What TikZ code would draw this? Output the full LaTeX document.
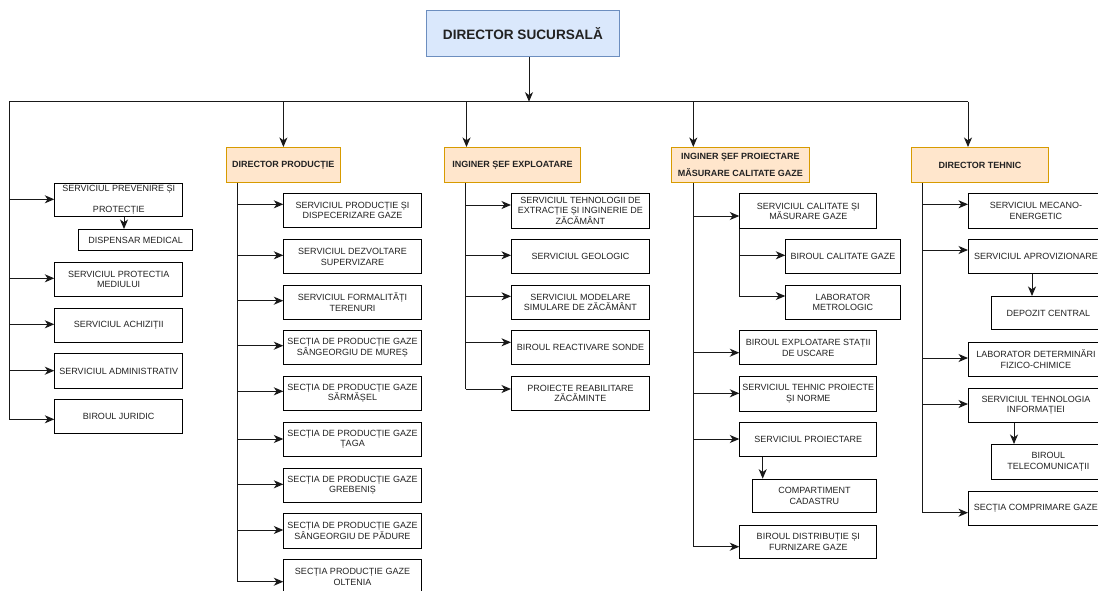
\documentclass[tikz,border=0pt]{standalone}
\usepackage{fontspec}
\setmainfont{Liberation Sans}
\usetikzlibrary{arrows.meta}
\definecolor{topfill}{HTML}{DAE8FC}
\definecolor{topdraw}{HTML}{6C8EBF}
\definecolor{lvfill}{HTML}{FFE6CC}
\definecolor{lvdraw}{HTML}{D79B00}
\definecolor{txt}{HTML}{222222}
\newcommand\mybr[3]{\draw[arr] (#1 |- 0,#3) -- (#2.west |- 0,#3);}
\begin{document}
\begin{tikzpicture}[x=1pt,y=-1pt,
  ln/.style={line width=1pt, draw=black!90},
  arr/.style={ln, -{Stealth[length=9.5pt,width=8pt,inset=2.8pt]}},
  topbox/.style={draw=topdraw, fill=topfill, line width=0.8pt, anchor=north west, inner sep=0pt,
    minimum width=193pt, minimum height=46pt, font=\fontsize{13.6}{16}\selectfont\bfseries, text=txt},
  lvbox/.style={draw=lvdraw, fill=lvfill, line width=0.9pt, anchor=north west, inner sep=0pt,
    minimum height=35pt, align=center, font=\fontsize{9}{17.6}\selectfont\bfseries, text=txt},
  child/.style={draw=black, line width=0.9pt, fill=white, anchor=north west, inner sep=0pt,
    minimum width=137.5pt, minimum height=34.3pt, align=center,
    font=\fontsize{9}{10.7}\selectfont, text=txt},
  sub/.style={child, minimum width=114.4pt},
  lft/.style={child, minimum width=128pt}
]
\useasboundingbox (0,0) rectangle (1098,590);

% top
\node[topbox] (ds) at (426,10) {DIRECTOR SUCURSALĂ};

% level 2
\node[lvbox, minimum width=114.7pt] (dp) at (225.5,147) {DIRECTOR PRODUCȚIE};
\node[lvbox, minimum width=136.6pt] (ie) at (443.7,147) {INGINER ȘEF EXPLOATARE};
\node[lvbox, minimum width=137.3pt] (ip) at (671.3,147) {INGINER ȘEF PROIECTARE\\MĂSURARE CALITATE GAZE};
\node[lvbox, minimum width=137pt] (dt) at (911,147) {DIRECTOR TEHNIC};

% bus
\coordinate (busL) at (9,101.7);
\coordinate (busR) at (968,101.7);
\coordinate (busM) at (529,101.7);
\draw[arr] (ds.south -| busM) -- (busM);
\draw[ln] (busL) -- (busR);
\draw[arr] (dp.north -| 283.4,0) ++(0,-45.3) -- (dp.north -| 283.4,0);
\draw[arr] (ie.north -| 466.5,0) ++(0,-45.3) -- (ie.north -| 466.5,0);
\draw[arr] (ip.north -| 693.3,0) ++(0,-45.3) -- (ip.north -| 693.3,0);
\draw[arr] (busR) -- (dt.north -| busR);

% left column
\node[lft, minimum height=33pt, font=\fontsize{9}{21}\selectfont] (l1) at (54.3,182.7) {SERVICIUL PREVENIRE ȘI\\PROTECȚIE};
\node[sub, minimum width=114pt, minimum height=21pt] (l1d) at (78.3,229) {DISPENSAR MEDICAL};
\node[lft] (l2) at (54.3,261.7) {SERVICIUL PROTECTIA\\MEDIULUI};
\node[lft] (l3) at (54.3,307.7) {SERVICIUL ACHIZIȚII};
\node[lft] (l4) at (54.3,353.3) {SERVICIUL ADMINISTRATIV};
\node[lft, minimum height=34.6pt] (l5) at (54.3,398.7) {BIROUL JURIDIC};
\draw[ln] (busL) -- (9,419.3);
\mybr{busL}{l1}{199.3}
\mybr{busL}{l2}{278.3}
\mybr{busL}{l3}{324.3}
\mybr{busL}{l4}{370.7}
\mybr{busL}{l5}{419.3}
\draw[arr] (l1.south -| 124,0) -- (l1d.north -| 124,0);

% director productie
\coordinate (dpx) at (237.3,0);
\node[child] (p1) at (283.3,192.7) {SERVICIUL PRODUCȚIE ȘI\\DISPECERIZARE GAZE};
\node[child] (p2) at (283.3,239) {SERVICIUL DEZVOLTARE\\SUPERVIZARE};
\node[child] (p3) at (283.3,284.7) {SERVICIUL FORMALITĂȚI\\TERENURI};
\node[child] (p4) at (283.3,330) {SECȚIA DE PRODUCȚIE GAZE\\SÂNGEORGIU DE MUREȘ};
\node[child] (p5) at (283.3,375.7) {SECȚIA DE PRODUCȚIE GAZE\\SĂRMĂȘEL};
\node[child] (p6) at (283.3,421.7) {SECȚIA DE PRODUCȚIE GAZE\\ȚAGA};
\node[child] (p7) at (283.3,467.7) {SECȚIA DE PRODUCȚIE GAZE\\GREBENIȘ};
\node[child] (p8) at (283.3,513.3) {SECȚIA DE PRODUCȚIE GAZE\\SÂNGEORGIU DE PĂDURE};
\node[child] (p9) at (283.3,559) {SECȚIA PRODUCȚIE GAZE\\OLTENIA};
\draw[ln] (dp.south -| dpx) -- (dpx |- 0,581.7);
\mybr{dpx}{p1}{204.3}
\mybr{dpx}{p2}{255.3}
\mybr{dpx}{p3}{300.7}
\mybr{dpx}{p4}{345.7}
\mybr{dpx}{p5}{391.3}
\mybr{dpx}{p6}{439}
\mybr{dpx}{p7}{484.3}
\mybr{dpx}{p8}{530}
\mybr{dpx}{p9}{581.7}

% inginer sef exploatare
\coordinate (iex) at (465.7,0);
\node[child, minimum width=138pt, minimum height=35pt] (e1) at (511,192.7) {SERVICIUL TEHNOLOGII DE\\EXTRACȚIE ȘI INGINERIE DE\\ZĂCĂMÂNT};
\node[child, minimum width=138pt] (e2) at (511,239) {SERVICIUL GEOLOGIC};
\node[child, minimum width=138pt] (e3) at (511,284.7) {SERVICIUL MODELARE\\SIMULARE DE ZĂCĂMÂNT};
\node[child, minimum width=138pt] (e4) at (511,330) {BIROUL REACTIVARE SONDE};
\node[child, minimum width=138pt] (e5) at (511,375.7) {PROIECTE REABILITARE\\ZĂCĂMINTE};
\draw[ln] (ie.south -| iex) -- (iex |- 0,389);
\mybr{iex}{e1}{205}
\mybr{iex}{e2}{255.3}
\mybr{iex}{e3}{296.3}
\mybr{iex}{e4}{342.3}
\mybr{iex}{e5}{389}

% inginer sef proiectare
\coordinate (ipx) at (693.3,0);
\node[child, minimum width=137pt, minimum height=35pt] (q1) at (739.3,193.3) {SERVICIUL CALITATE ȘI\\MĂSURARE GAZE};
\node[sub, minimum height=33.4pt] (q1a) at (785.3,239.3) {BIROUL CALITATE GAZE};
\node[sub, minimum height=33.7pt] (q1b) at (785.3,285) {LABORATOR\\METROLOGIC};
\node[child, minimum width=137pt] (q2) at (739.3,330) {BIROUL EXPLOATARE STAȚII\\DE USCARE};
\node[child, minimum width=137pt, minimum height=34.7pt] (q3) at (739.3,376) {SERVICIUL TEHNIC PROIECTE\\ȘI NORME};
\node[child, minimum width=137pt, minimum height=33.4pt] (q4) at (739.3,422.3) {SERVICIUL PROIECTARE};
\node[child, minimum width=124.6pt, minimum height=33.6pt] (q4a) at (751.7,478.7) {COMPARTIMENT\\CADASTRU};
\node[child, minimum width=137pt, minimum height=33.3pt] (q5) at (739.3,525) {BIROUL DISTRIBUȚIE ȘI\\FURNIZARE GAZE};
\draw[ln] (ip.south -| ipx) -- (ipx |- 0,546.7);
\mybr{ipx}{q1}{216}
\mybr{ipx}{q2}{352.7}
\mybr{ipx}{q3}{393.3}
\mybr{ipx}{q4}{439}
\mybr{ipx}{q5}{546.7}
\coordinate (q1x) at (q1.south west);
\draw[ln] (q1x) -- (q1x |- 0,296);
\mybr{q1x}{q1a}{255.3}
\mybr{q1x}{q1b}{296}
\draw[arr] (q4.south -| 762.7,0) -- (q4a.north -| 762.7,0);

% director tehnic
\coordinate (dtx) at (922,0);
\node[child, minimum width=135pt, minimum height=35.6pt] (t1) at (968,192.7) {SERVICIUL MECANO-\\ENERGETIC};
\node[child, minimum width=135pt] (t2) at (968,239) {SERVICIUL APROVIZIONARE};
\node[sub, minimum height=33pt] (t2a) at (990.7,296) {DEPOZIT CENTRAL};
\node[child, minimum width=135pt] (t3) at (968,341.7) {LABORATOR DETERMINĂRI\\FIZICO-CHIMICE};
\node[child, minimum width=135pt] (t4) at (968,387.7) {SERVICIUL TEHNOLOGIA\\INFORMAȚIEI};
\node[sub, minimum height=34.7pt] (t4a) at (990.7,444) {BIROUL\\TELECOMUNICAȚII};
\node[child, minimum width=135pt] (t5) at (968,490.7) {SECȚIA COMPRIMARE GAZE};
\draw[ln] (dt.south -| dtx) -- (dtx |- 0,512.7);
\mybr{dtx}{t1}{204.3}
\mybr{dtx}{t2}{250}
\mybr{dtx}{t3}{358}
\mybr{dtx}{t4}{404}
\mybr{dtx}{t5}{512.7}
\draw[arr] (t2.south -| 1032,0) -- (t2a.north -| 1032,0);
\draw[arr] (t4.south -| 1014,0) -- (t4a.north -| 1014,0);
\end{tikzpicture}
\end{document}
